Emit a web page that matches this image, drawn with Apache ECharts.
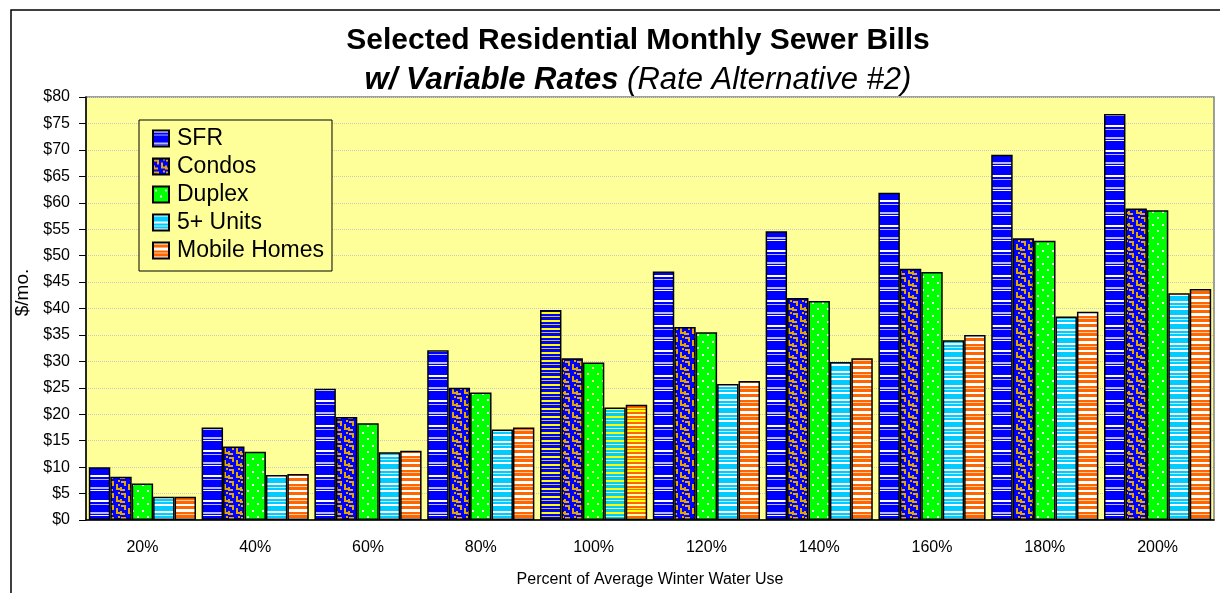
<!DOCTYPE html>
<html>
<head>
<meta charset="utf-8">
<script src="https://cdn.jsdelivr.net/npm/echarts@6/dist/echarts.min.js"></script>
<style>
  html, body { margin: 0; padding: 0; background: #fff; }
  #chart { width: 1220px; height: 593px; }
</style>
</head>
<body>
<div id="chart"></div>
<script>
const categories = ['20%', '40%', '60%', '80%', '100%', '120%', '140%', '160%', '180%', '200%']
const seriesNames = ['SFR', 'Condos', 'Duplex', '5+ Units', 'Mobile Homes']
const sfr = [10.0, 17.5, 24.8, 32.1, 39.7, 47.0, 54.6, 61.9, 69.1, 76.8]
const condos = [8.2, 13.9, 19.5, 25.0, 30.6, 36.5, 42.0, 47.5, 53.3, 58.9]
const duplex = [6.9, 12.9, 18.3, 24.1, 29.8, 35.5, 41.4, 46.9, 52.8, 58.6]
const units5 = [4.4, 8.5, 12.8, 17.1, 21.3, 25.7, 29.9, 34.0, 38.5, 42.9]
const mobile = [4.4, 8.7, 13.1, 17.5, 21.8, 26.3, 30.6, 35.0, 39.4, 43.7]
const yTicks = { min: 0, max: 80, step: 5 }

// small canvas tiles used as pattern fills
function tile(w, h, bg, draw) {
  const c = document.createElement('canvas')
  c.width = w
  c.height = h
  const ctx = c.getContext('2d')
  ctx.fillStyle = bg
  ctx.fillRect(0, 0, w, h)
  draw(ctx)
  return { image: c, repeat: 'repeat' }
}

function stripes(bg, h, lines) {
  return tile(8, h, bg, ctx => {
    lines.forEach(l => {
      ctx.fillStyle = l[2]
      ctx.fillRect(0, l[0], 8, l[1])
    })
  })
}

function rects(w, h, bg, col, list) {
  return tile(w, h, bg, ctx => {
    ctx.fillStyle = col
    list.forEach(r => ctx.fillRect(r[0], r[1], r[2], r[3]))
  })
}

const W = '#ffffff'
const L = '#b8b8ff'
const Y = '#ffff00'

const maze = [[1, 1, 4, 2], [4, 1, 2, 5], [8, 4, 2, 4], [8, 8, 4, 2], [0, 7, 2, 4], [2, 9, 3, 2], [10, 0, 2, 2]]
const dots = [[2, 3, 2, 2], [7, 9, 2, 2]]

const pat = {
  sfr: stripes('#0000ff', 25, [[0, 2, W], [4, 1, L], [12, 2, L], [15, 1, W]]),
  sfrHi: stripes('#0000ff', 8, [[0, 2, Y], [4, 1, '#cccc00']]),
  condos: rects(12, 12, '#0000ff', '#e0a800', maze),
  duplex: rects(10, 13, '#00ff00', '#eaffea', dots),
  duplexHi: rects(10, 13, '#00ff00', '#ffff80', dots),
  units5: stripes('#00ccff', 14, [[0, 2, W], [7, 2, W], [11, 1, '#c0f0ff']]),
  units5Hi: stripes('#00ccff', 8, [[0, 2, Y], [4, 1, '#e0ff80']]),
  mobile: stripes('#ff6600', 14, [[0, 2, W], [5, 3, W], [10, 1, '#ffc8a0']]),
  mobileHi: stripes('#ff6600', 10, [[0, 2, Y], [4, 2, '#ffffb0'], [8, 1, Y]])
}

// the 100% group is drawn with a yellow-striped fill in the original
function withHighlight(values, hi) {
  return values.map((v, i) => i === 4 && hi ? { value: v, itemStyle: { color: hi } } : v)
}

const fills = [
  [sfr, pat.sfr, pat.sfrHi],
  [condos, pat.condos, null],
  [duplex, pat.duplex, pat.duplexHi],
  [units5, pat.units5, pat.units5Hi],
  [mobile, pat.mobile, pat.mobileHi]
]

const chart = echarts.init(document.getElementById('chart'))
chart.setOption({
  animation: false,
  textStyle: { fontFamily: 'Liberation Sans, Arial, sans-serif' },
  legend: {
    orient: 'vertical',
    left: 139,
    top: 120,
    icon: 'rect',
    itemWidth: 16,
    itemHeight: 16,
    itemGap: 5,
    padding: [7, 8, 9, 13],
    backgroundColor: '#ffff99',
    borderColor: '#000',
    borderWidth: 1,
    textStyle: { fontSize: 23, lineHeight: 23, color: '#000', padding: [0, 0, 0, 3] },
    data: seriesNames
  },
  grid: {
    left: 86,
    right: 6,
    top: 97,
    bottom: 72,
    show: true,
    backgroundColor: '#ffff99',
    borderColor: '#808080',
    borderWidth: 1.5
  },
  xAxis: {
    type: 'category',
    data: categories,
    name: 'Percent of Average Winter Water Use',
    nameLocation: 'middle',
    nameGap: 52,
    nameTextStyle: { fontSize: 16, color: '#000' },
    axisLine: { lineStyle: { color: '#000', width: 1.5 } },
    axisTick: { length: 8, lineStyle: { color: '#000' } },
    axisLabel: { fontSize: 16, color: '#000', margin: 20 }
  },
  yAxis: {
    type: 'value',
    min: yTicks.min,
    max: yTicks.max,
    interval: yTicks.step,
    name: '$/mo.',
    nameLocation: 'middle',
    nameGap: 42,
    nameTextStyle: { fontSize: 19, color: '#000', padding: [0, 0, 0, 32] },
    axisLine: { show: true, lineStyle: { color: '#000', width: 1.5 } },
    axisTick: { show: true, length: 7, lineStyle: { color: '#000' } },
    axisLabel: { fontSize: 16, color: '#000', margin: 16, formatter: v => '$' + v },
    splitLine: { lineStyle: { color: '#c8c8c8', width: 1, type: 'dotted' } }
  },
  graphic: [
    {
      type: 'rect',
      silent: true,
      shape: { x: 11, y: 10, width: 1300, height: 700 },
      style: { fill: 'none', stroke: '#000', lineWidth: 1.5 }
    },
    {
      type: 'text',
      x: 638,
      y: 41,
      style: {
        text: 'Selected Residential Monthly Sewer Bills',
        align: 'center',
        verticalAlign: 'middle',
        font: 'bold 30px Liberation Sans, Arial, sans-serif',
        fill: '#000'
      }
    },
    {
      type: 'text',
      x: 638,
      y: 80,
      style: {
        text: '{b|w/ Variable Rates} {i|(Rate Alternative #2)}',
        align: 'center',
        verticalAlign: 'middle',
        fontFamily: 'Liberation Sans, Arial, sans-serif',
        fontSize: 31,
        fontStyle: 'italic',
        fill: '#000',
        rich: {
          b: { fontSize: 31, fontWeight: 'bold', fontStyle: 'italic', fontFamily: 'Liberation Sans, Arial, sans-serif' },
          i: { fontSize: 31, fontStyle: 'italic', fontFamily: 'Liberation Sans, Arial, sans-serif' }
        }
      }
    }
  ],
  series: fills.map((f, k) => ({
    name: seriesNames[k],
    type: 'bar',
    barGap: '0%',
    barCategoryGap: '5%',
    itemStyle: { color: f[1], borderColor: '#000', borderWidth: 1.5 },
    data: withHighlight(f[0], f[2])
  }))
})
</script>
</body>
</html>
